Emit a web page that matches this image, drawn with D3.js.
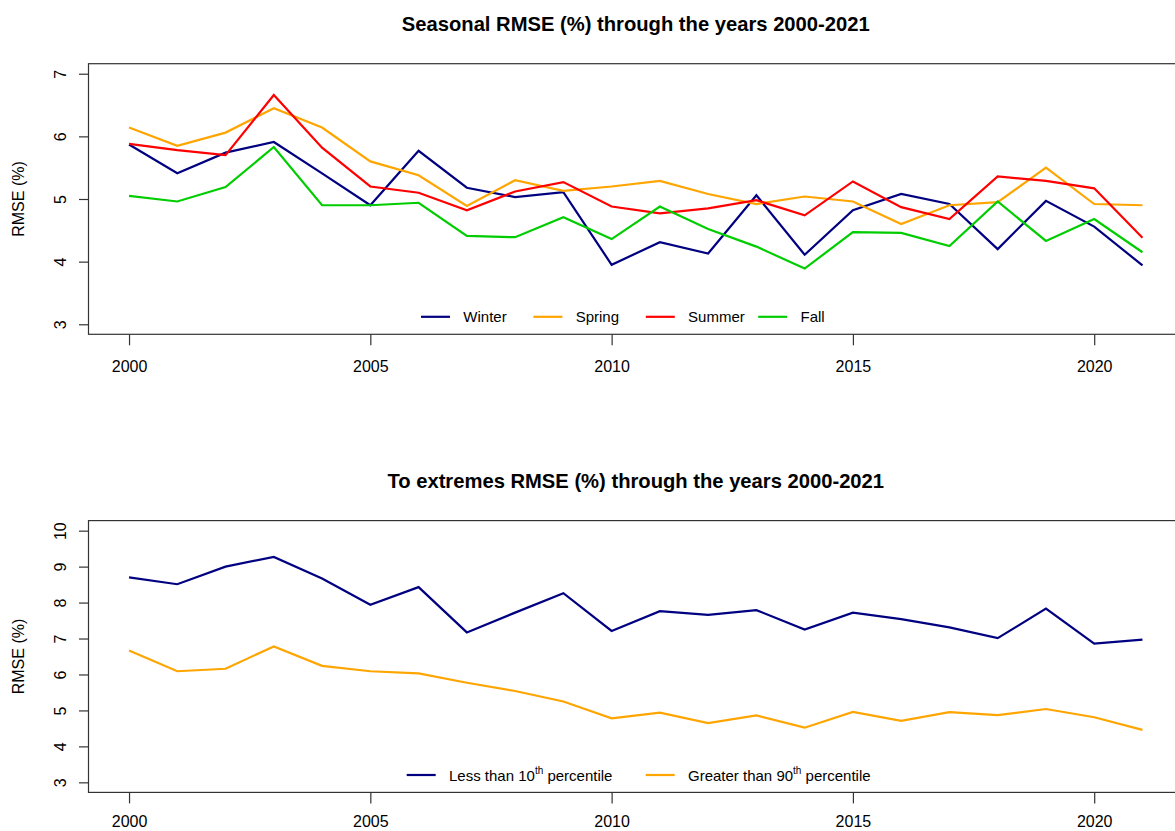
<!DOCTYPE html>
<html>
<head>
<meta charset="utf-8">
<script src="https://cdn.jsdelivr.net/npm/d3@7"></script>
<style>
  html, body { margin: 0; padding: 0; background: #fff; }
  svg { display: block; font-family: "Liberation Sans", Arial, Helvetica, sans-serif; }
</style>
</head>
<body>
<svg id="chart" width="1175" height="831"></svg>
<script>
// Years on the x axis
const years = [2000, 2001, 2002, 2003, 2004, 2005, 2006, 2007, 2008, 2009, 2010,
               2011, 2012, 2013, 2014, 2015, 2016, 2017, 2018, 2019, 2020, 2021];
const yearTicks = [2000, 2005, 2010, 2015, 2020];

// Seasonal RMSE (%)
const winter = [5.87, 5.41, 5.74, 5.91, 5.41, 4.90, 5.77, 5.18, 5.03, 5.11, 3.95,
                4.31, 4.13, 5.06, 4.11, 4.82, 5.08, 4.92, 4.20, 4.97, 4.56, 3.94];
const spring = [6.14, 5.85, 6.06, 6.45, 6.14, 5.60, 5.38, 4.89, 5.30, 5.13, 5.20,
                5.29, 5.08, 4.92, 5.04, 4.96, 4.60, 4.90, 4.95, 5.50, 4.92, 4.90];
const summer = [5.88, 5.78, 5.70, 6.66, 5.82, 5.20, 5.10, 4.82, 5.12, 5.27, 4.88,
                4.77, 4.85, 4.98, 4.74, 5.28, 4.87, 4.68, 5.36, 5.29, 5.17, 4.38];
const fall   = [5.05, 4.96, 5.19, 5.83, 4.90, 4.90, 4.94, 4.41, 4.39, 4.71, 4.36,
                4.88, 4.52, 4.24, 3.89, 4.47, 4.46, 4.25, 4.96, 4.33, 4.68, 4.15];
const seasonNames = ["Winter", "Spring", "Summer", "Fall"];
const seasonTicks = [3, 4, 5, 6, 7];

// Extremes RMSE (%)
const below10 = [8.70, 8.51, 9.00, 9.27, 8.67, 7.94, 8.43, 7.17, 7.72, 8.26, 7.21,
                 7.76, 7.66, 7.79, 7.25, 7.72, 7.54, 7.31, 7.01, 7.83, 6.86, 6.97];
const above90 = [6.67, 6.09, 6.16, 6.78, 6.24, 6.09, 6.03, 5.77, 5.54, 5.25, 4.78,
                 4.94, 4.65, 4.86, 4.52, 4.96, 4.71, 4.95, 4.87, 5.04, 4.81, 4.46];
const extremeTicks = [3, 4, 5, 6, 7, 8, 9, 10];

const svg = d3.select("#chart");
const axisColor = "#333";

// Panel geometry: plot region extends 4% past the data range, R style
function pad(lo, hi) { const d = (hi - lo) * 0.04; return [lo - d, hi + d]; }

const x = d3.scaleLinear().domain(pad(2000, 2021)).range([88.5, 1183]);

function panel(cfg) {
  const y = d3.scaleLinear().domain(pad(cfg.yMin, cfg.yMax)).range([cfg.bottom, cfg.top]);
  const g = svg.append("g");

  // Title
  g.append("text")
    .attr("x", (x.range()[0] + x.range()[1]) / 2)
    .attr("y", cfg.titleY)
    .attr("text-anchor", "middle")
    .attr("font-size", 20.2)
    .attr("font-weight", "bold")
    .attr("fill", "#000")
    .text(cfg.title);

  // Series lines
  const line = d3.line().x((d, i) => x(years[i])).y(d => y(d));
  cfg.series.forEach(s => {
    g.append("path")
      .datum(s.values)
      .attr("d", line)
      .attr("fill", "none")
      .attr("stroke", s.color)
      .attr("stroke-width", 2.2)
      .attr("stroke-linejoin", "miter");
  });

  // Box
  g.append("rect")
    .attr("x", x.range()[0]).attr("y", cfg.top)
    .attr("width", x.range()[1] - x.range()[0])
    .attr("height", cfg.bottom - cfg.top)
    .attr("fill", "none").attr("stroke", axisColor).attr("stroke-width", 1.2);

  // Bottom axis
  const xa = g.append("g")
    .attr("transform", `translate(0,${cfg.bottom})`)
    .call(d3.axisBottom(x).tickValues(yearTicks).tickFormat(d3.format("d")).tickSize(11));
  xa.select(".domain").remove();
  xa.selectAll(".tick line").attr("stroke", axisColor).attr("stroke-width", 1.2);
  xa.selectAll(".tick text")
    .attr("dy", null).attr("y", cfg.xLabelOffset)
    .attr("font-size", 16).attr("font-family", null).attr("fill", "#000");

  // Left axis with labels parallel to the axis
  const ya = g.append("g")
    .attr("transform", `translate(${x.range()[0]},0)`)
    .call(d3.axisLeft(y).tickValues(cfg.yTicks).tickFormat(d3.format("d")).tickSize(9.5));
  ya.select(".domain").remove();
  ya.selectAll(".tick line").attr("stroke", axisColor).attr("stroke-width", 1.2);
  ya.selectAll(".tick text")
    .attr("x", null).attr("dy", null)
    .attr("transform", "translate(-23,0) rotate(-90)")
    .attr("text-anchor", "middle")
    .attr("font-size", 16).attr("font-family", null).attr("fill", "#000");

  // Y axis title
  g.append("text")
    .attr("transform", `translate(24,${(cfg.top + cfg.bottom) / 2}) rotate(-90)`)
    .attr("text-anchor", "middle")
    .attr("font-size", 16)
    .attr("fill", "#000")
    .text("RMSE (%)");

  // Legend (horizontal, no frame)
  cfg.series.forEach((s, i) => {
    const lx = cfg.legend.x + i * cfg.legend.step;
    g.append("line")
      .attr("x1", lx).attr("x2", lx + 29)
      .attr("y1", cfg.legend.y - 5.5).attr("y2", cfg.legend.y - 5.5)
      .attr("stroke", s.color).attr("stroke-width", 2.2);
    const t = g.append("text")
      .attr("x", lx + 42.3).attr("y", cfg.legend.y)
      .attr("font-size", 15).attr("fill", "#000");
    t.append("tspan").text(s.label[0]);
    if (s.label.length > 1) {
      t.append("tspan").attr("font-size", 10).attr("dy", -7).text(s.label[1]);
      t.append("tspan").attr("dy", 7).text(s.label[2]);
    }
  });
}

panel({
  title: "Seasonal RMSE (%) through the years 2000-2021",
  titleY: 31,
  top: 63.7, bottom: 334.3,
  xLabelOffset: 37.4,
  yMin: 3, yMax: 7, yTicks: seasonTicks,
  series: [
    { label: [seasonNames[0]], values: winter, color: "#000080" },
    { label: [seasonNames[1]], values: spring, color: "#FFA500" },
    { label: [seasonNames[2]], values: summer, color: "#FF0000" },
    { label: [seasonNames[3]], values: fall,   color: "#00CD00" }
  ],
  legend: { x: 421, y: 322.3, step: 112.4 }
});

panel({
  title: "To extremes RMSE (%) through the years 2000-2021",
  titleY: 488,
  top: 520.6, bottom: 792.4,
  xLabelOffset: 35,
  yMin: 3, yMax: 10, yTicks: extremeTicks,
  series: [
    { label: ["Less than 10", "th", " percentile"], values: below10, color: "#000080" },
    { label: ["Greater than 90", "th", " percentile"], values: above90, color: "#FFA500" }
  ],
  legend: { x: 406.7, y: 780.5, step: 239 }
});
</script>
</body>
</html>
